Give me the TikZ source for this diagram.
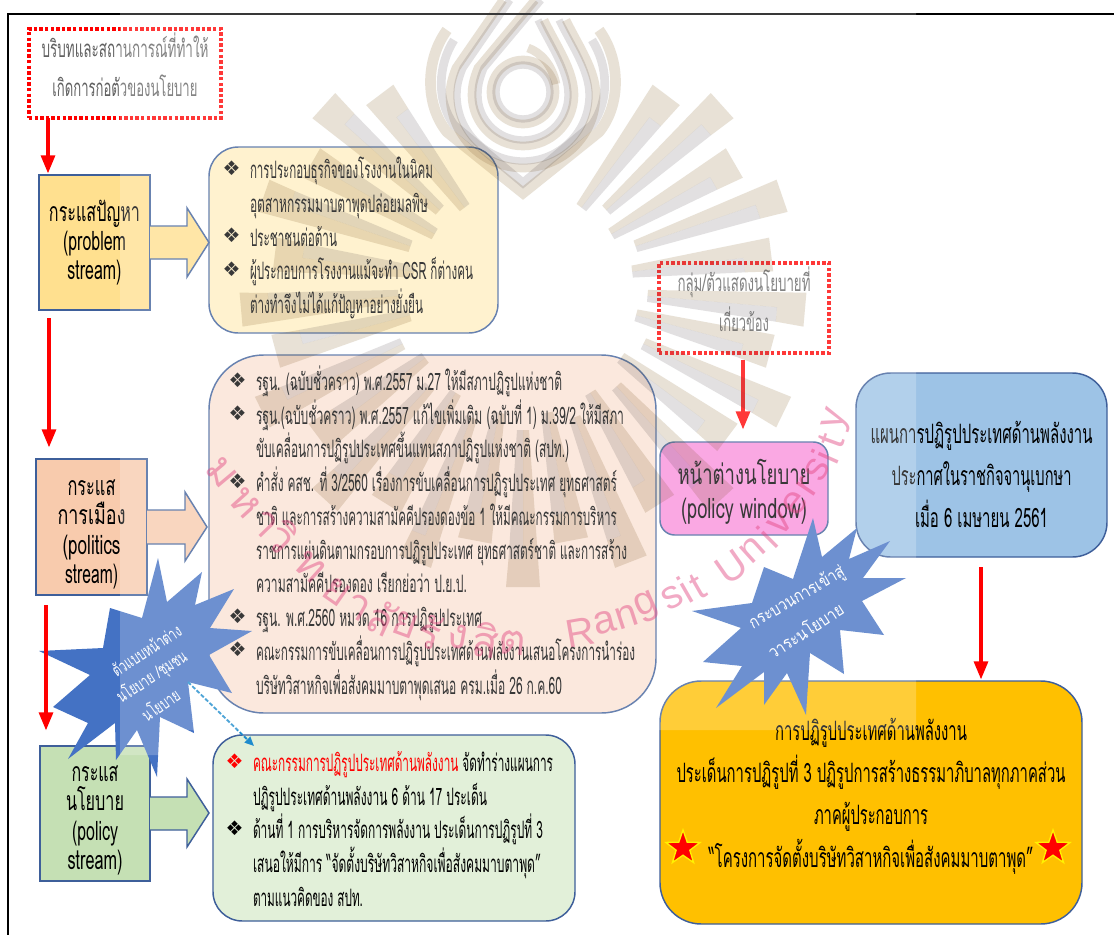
\documentclass[tikz,border=0pt]{standalone}
\usepackage{fontspec}
\usepackage{graphicx}
\usetikzlibrary{arrows.meta,shapes.geometric,calc}
\newfontfamily\thaifont[Script=Thai]{Loma}
\newfontfamily\djvu{DejaVu Sans}
\newfontfamily\libsans{Liberation Sans}
\newcommand\fw[2]{\resizebox{\dimexpr#1pt*3/4\relax}{\height}{#2}}
\newcommand\bulmark[1]{\makebox[0pt][r]{\raisebox{2.5pt}{\textcolor{#1}{\fontsize{15}{15}\djvu ❖}}\hspace{7pt}}}
\newcommand\thfont[2]{\thaifont\fontsize{#1}{#2}\selectfont\lineskiplimit -100pt\relax}
\newcommand\padtop[1]{\rule{0pt}{#1}}
\newcommand\padbot[1]{\rule[-#1]{0pt}{#1}}
\definecolor{bord}{HTML}{3E5F9A}
\definecolor{wtan}{HTML}{E2D9CB}
\definecolor{wgrey}{HTML}{DAD8D9}
\definecolor{wpink}{HTML}{E2437F}
\definecolor{burstc}{HTML}{4472C4}
\tikzset{
 wh/.style 2 args={minimum width=#1*0.75pt,minimum height=#2*0.75pt,inner sep=0pt,outer sep=0pt},
 tf/.style 2 args={font={\thfont{#1}{#2}}},
 sqbox/.style={draw=bord,line width=1.1pt,align=center},
 rbox/.style={draw=bord,line width=1.1pt,align=center},
 dotbox/.style={draw=red,line width=2.4pt,dash pattern=on 2.6pt off 1.6pt,align=center,text=black!62},
 blk/.style={inner sep=0pt,outer sep=0pt,align=left,anchor=west,text=black},
 blkc/.style={inner sep=0pt,outer sep=0pt,align=center,text=black},
 redarr/.style={draw=red,line width=3.6pt,-{Triangle[width=10pt,length=14pt]}},
 bluearr/.style={draw={rgb,255:red,30;green,140;blue,205},line width=1.4pt,dash pattern=on 3pt off 1.5pt,-{Triangle[width=6pt,length=7pt]}},
 barrow/.style={draw=bord,line width=1.1pt},
 burst/.style={fill=burstc},
 bursttxt/.style={inner sep=0pt,text=white,tf={13}{15}},
 raytan/.style={fill=wtan,blend mode=multiply},
 raygrey/.style={fill=wgrey,blend mode=multiply},
 logotan/.style={draw=wtan,line width=6.5pt,blend mode=multiply},
 logogrey/.style={draw=wgrey,line width=5.5pt,blend mode=multiply},
 wmt/.style={inner sep=0pt,text=wpink,text opacity=.45,tf={32}{34}},
 wml/.style={inner sep=0pt,text=wpink,text opacity=.45,font=\libsans\fontsize{30}{32}\selectfont},
 goldstar/.style={star,star points=5,star point ratio=2.5,fill=red,draw=yellow,line width=1pt,minimum size=27pt,inner sep=0pt}
}
\newcommand\wlayer[3]{\draw[#3] (#2,0) -- ({523-#1+6},68) .. controls ({523-#1+1},80) and ({523-#1},88) .. ({523-#1},95) arc[start angle=180,end angle=0,radius=#1] .. controls ({523+#1},70) and ({523+#1-18},45) .. ({523+#1-30},20);}
\begin{document}
\begin{tikzpicture}[x=0.75pt,y=-0.75pt]
\useasboundingbox (0,0) rectangle (1114,935);
\fill[white] (0,0) rectangle (1114,935);
% frame
\coordinate (frA) at (1114,14); \coordinate (frB) at (8,14); \coordinate (frC) at (8,935);
\draw[black,line width=1.6pt] (frA) -- (frB) -- (frC);

% ---------- boxes ----------
\node[dotbox,wh={192}{89},tf={18}{29}] (ctx) at (125,73.5) {\fw{167}{บริบทและสถานการณ์ที่ทำให้}\\\padbot{13pt}\fw{145}{เกิดการก่อตัวของนโยบาย}};
\node[sqbox,wh={111}{135},fill={rgb,255:red,255;green,224;blue,143},tf={20}{22}] (prob) at (94.5,242.5) {\fw{91}{กระแสปัญหา}\\\fw{63}{(problem}\\\fw{54}{stream)}};
\node[rbox,wh={289}{186},rounded corners=22pt,fill={rgb,255:red,255;green,239;blue,194}] (ybox) at (353.5,240) {};
\node[sqbox,wh={111}{136},fill={rgb,255:red,248;green,203;blue,173},tf={20}{22}] (poli) at (91.5,527) {\padtop{23pt}\fw{48}{กระแส}\\\fw{68}{การเมือง}\\\fw{58}{(politics}\\\fw{53}{stream)}};
\node[rbox,wh={447}{358},rounded corners=41pt,fill={rgb,255:red,250;green,226;blue,212}] (pbox) at (432.5,534) {};
\node[sqbox,wh={110}{135},fill={rgb,255:red,197;green,224;blue,180},tf={20}{22}] (poly) at (95,813.5) {\padtop{22pt}\fw{47}{กระแส}\\\fw{58}{นโยบาย}\\\fw{46}{(policy}\\\fw{55}{stream)}};
\node[rbox,wh={362}{186},rounded corners=22pt,fill={rgb,255:red,226;green,240;blue,217}] (gbox) at (394,828) {};
\node[dotbox,wh={170}{90},tf={18}{30}] (actor) at (744,308) {\fw{133}{กลุ่ม/ตัวแสดงนโยบายที่}\\\padbot{14pt}\fw{50}{เกี่ยวข้อง}};
\node[rbox,wh={168}{93},rounded corners=11pt,fill={rgb,255:red,249;green,144;blue,220},tf={21}{25}] (win) at (744,488.5) {\padtop{24pt}\fw{133}{หน้าต่างนโยบาย}\\\fw{126}{(policy window)}};
\node[rbox,wh={251}{184},rounded corners=26pt,fill={rgb,255:red,157;green,195;blue,230},tf={20}{31.5}] (plan) at (981.5,465) {\padtop{31pt}\fw{222}{แผนการปฏิรูปประเทศด้านพลังงาน}\\\fw{180}{ประกาศในราชกิจจานุเบกษา}\\\fw{133}{เมื่อ 6 เมษายน 2561}};
\node[rbox,wh={422}{243},rounded corners=31pt,fill={rgb,255:red,255;green,192;blue,0}] (oran) at (871,802.5) {};

% ---------- block arrows ----------
\coordinate (t1) at (209,242.5);
\draw[barrow,fill={rgb,255:red,255;green,224;blue,143}] (prob.east |- 0,226) -- (187,226) -- (187,208) -- (t1) -- (187,277) -- (187,259) -- (prob.east |- 0,259);
\coordinate (t2) at (207,527);
\draw[barrow,fill={rgb,255:red,248;green,203;blue,173}] (poli.east |- 0,510) -- (185,510) -- (185,492) -- (t2) -- (185,561) -- (185,544) -- (poli.east |- 0,544);
\coordinate (t3) at (209,813);
\draw[barrow,fill={rgb,255:red,197;green,224;blue,180}] (poly.east |- 0,797) -- (187,797) -- (187,779) -- (t3) -- (187,847) -- (187,830) -- (poly.east |- 0,830);

% ---------- text blocks ----------
\node[blk,tf={18}{25.3}] (ytxt) at (250,238) {%
\bulmark{black}\fw{183}{การประกอบธุรกิจของโรงงานในนิคม}\\
\fw{178}{อุตสาหกรรมมาบตาพุดปล่อยมลพิษ}\\
\bulmark{black}\fw{87}{ประชาชนต่อต้าน}\\
\bulmark{black}\fw{223}{ผู้ประกอบการโรงงานแม้จะทำ CSR ก็ต่างคน}\\
\fw{173}{ต่างทำจึงไม่ได้แก้ปัญหาอย่างยั่งยืน}};
\node[blk,tf={18}{25.3}] (ptxt) at (256,533) {%
\bulmark{black}\fw{306}{รฐน. (ฉบับชั่วคราว) พ.ศ.2557 ม.27 ให้มีสภาปฏิรูปแห่งชาติ}\\
\bulmark{black}\fw{368}{รฐน.(ฉบับชั่วคราว) พ.ศ.2557 แก้ไขเพิ่มเติม (ฉบับที่ 1) ม.39/2 ให้มีสภา}\\
\fw{313}{ขับเคลื่อนการปฏิรูปประเทศขึ้นแทนสภาปฏิรูปแห่งชาติ (สปท.)}\\
\bulmark{black}\fw{361}{คำสั่ง คสช. ที่ 3/2560 เรื่องการขับเคลื่อนการปฏิรูปประเทศ ยุทธศาสตร์}\\
\fw{361}{ชาติ และการสร้างความสามัคคีปรองดองข้อ 1 ให้มีคณะกรรมการบริหาร}\\
\fw{371}{ราชการแผ่นดินตามกรอบการปฏิรูปประเทศ ยุทธศาสตร์ชาติ และการสร้าง}\\
\fw{211}{ความสามัคคีปรองดอง  เรียกย่อว่า ป.ย.ป.}\\
\bulmark{black}\fw{226}{รฐน. พ.ศ.2560 หมวด 16 การปฏิรูปประเทศ}\\
\bulmark{black}\fw{379}{คณะกรรมการขับเคลื่อนการปฏิรูปประเทศด้านพลังงานเสนอโครงการนำร่อง}\\
\fw{306}{บริษัทวิสาหกิจเพื่อสังคมมาบตาพุดเสนอ ครม.เมื่อ 26 ก.ค.60}};
\node[blk,tf={18}{25.3}] (gtxt) at (253,829) {%
\bulmark{red}\fw{300}{\textcolor{red}{คณะกรรมการปฏิรูปประเทศด้านพลังงาน} จัดทำร่างแผนการ}\\
\fw{234}{ปฏิรูปประเทศด้านพลังงาน 6 ด้าน 17 ประเด็น}\\
\bulmark{black}\fw{290}{ด้านที่ 1 การบริหารจัดการพลังงาน ประเด็นการปฏิรูปที่ 3}\\
\fw{288}{เสนอให้มีการ “จัดตั้งบริษัทวิสาหกิจเพื่อสังคมมาบตาพุด”}\\
\fw{110}{ตามแนวคิดของ สปท.}};
\node[blkc,tf={20}{31.8}] (otxt) at (871,796) {%
\fw{192}{การปฏิรูปประเทศด้านพลังงาน}\\
\fw{389}{ประเด็นการปฏิรูปที่ 3 ปฏิรูปการสร้างธรรมาภิบาลทุกภาคส่วน}\\
\fw{114}{ภาคผู้ประกอบการ}\\
\fw{325}{“โครงการจัดตั้งบริษัทวิสาหกิจเพื่อสังคมมาบตาพุด”}};
\node[goldstar] (s1) at (683,848) {};
\node[goldstar] (s2) at (1053,848) {};

% ---------- bursts ----------
\fill[burst] (158,558)--(167,602)--(202,572)--(195,605)--(234,589)--(210,628)--(252,631)--(209,655)--(232,693)--(188,682)--(194,733)--(160,717)--(157,777)--(137,730)--(116,760)--(115,723)--(68,759)--(88,723)--(53,707)--(90,675)--(39,651)--(103,648)--(110,608)--(142,618)--cycle;
\fill[burst] (813,518)--(822,557)--(857,528)--(849,559)--(890,541)--(863,578)--(906,578)--(862,601)--(884,635)--(840,630)--(844,674)--(810,653)--(806,715)--(787,673)--(764,705)--(764,672)--(716,708)--(742,666)--(703,662)--(741,628)--(692,611)--(752,603)--(764,567)--(793,579)--cycle;
\node[bursttxt,rotate=33] (b1a) at (146,650) {\fw{79}{ตัวแบบหน้าต่าง}};
\node[bursttxt,rotate=33] (b1b) at (152,677) {\fw{80}{นโยบาย /ชุมชน}};
\node[bursttxt,rotate=35] (b1c) at (160,704) {\fw{42}{นโยบาย}};
\node[bursttxt,rotate=30] (b2a) at (797,598) {\fw{107}{กระบวนการเข้าสู่}};
\node[bursttxt,rotate=33] (b2b) at (805,630) {\fw{86}{วาระนโยบาย}};

% ---------- connectors ----------
\coordinate (a1s) at (48,118); \coordinate (a1e) at (48,174);
\draw[redarr] (a1s) -- (a1e);
\coordinate (a2s) at (49,318); \coordinate (a2e) at (49,448);
\draw[redarr] (a2s) -- (a2e);
\coordinate (a3s) at (46,605); \coordinate (a3e) at (46,731);
\draw[redarr] (a3s) -- (a3e);
\coordinate (a4s) at (743,360); \coordinate (a4e) at (743,430);
\draw[redarr] (a4s) -- (a4e);
\coordinate (a5s) at (981,567); \coordinate (a5e) at (981,680);
\draw[redarr] (a5s) -- (a5e);
\coordinate (dA) at (188,682); \coordinate (dB) at (254,746);
\draw[bluearr] (dA) -- (dB);

% ---------- watermark logo ----------
\foreach \a/\ri/\ro in {-53/97/238,-42/112/268,-30/102/244,-19/119/274,-7/110/250,5/125/283,15/117/256,26/134/290,36.7/122/255,47.3/138/292,58/127/258,68.7/142/297,79.3/130/260,90/145/302,100.7/130/260,111.3/142/297,122/127/258,132.7/138/292,143.3/122/255,154/134/290,165/117/256,175/125/283,187/110/250,199/119/274,210/102/244,222/112/268,233/97/238}{
 \begin{scope}[shift={(523,285)},rotate=-\a]
 \fill[raytan] (\ri,-6) -- (\ro,-17) -- (\ro,17) -- (\ro-28,14.5) -- (\ro-28,0) -- (\ri,0) -- cycle;
 \fill[raygrey] (\ri,0) -- (\ri,6) -- (\ro-28,14.5) -- (\ro-28,0) -- cycle;
 \end{scope}
}
\draw[logotan] (523,92) circle[radius=32];
\draw[logogrey] (523,92) circle[radius=27];
\draw[logotan] (556,84) .. controls (552,64) and (540,52) .. (528,48);
\wlayer{73}{503}{logotan}
\wlayer{66}{510}{logogrey}
\wlayer{51}{535}{logotan}
\wlayer{45}{541}{logogrey}
\draw[logotan,line width=8pt] (447,30) .. controls (425,60) and (425,105) .. (447,132) -- (523,193) -- (599,132) .. controls (621,105) and (621,60) .. (599,30);
\draw[logogrey,line width=6.5pt] (454,40) .. controls (438,65) and (436,100) .. (454,125) -- (523,183) -- (592,125) .. controls (610,100) and (608,65) .. (592,40);

% white wash of the watermark image
\fill[white,fill opacity=.22] (120,0) -- (916,0) -- (916,730) -- (159,730) -- (159,755) -- (120,755) -- cycle;

% watermark text
\foreach \n/\x/\y/\r/\g in {a/222/473/-50/ม,b/245/503/-48/ห,c/264/524/-46/า,d/283/537/-44/วิ,e/310/567/-42/ท,f/337/592/-35/ย,g/358/607/-30/า,h/382/618/-25/ลั,i/405/625/-20/ย,j/430/632/-15/รั,k/458/637/-10/ง,l/486/640/-8/สิ,m/512/643/-5/ต}{
 \node[wmt,rotate=\r] (wt\n) at (\x,\y) {\g};
}
\foreach \n/\x/\y/\r/\g in {a/580/632/10/R,b/605/623/14/a,c/627/617/18/n,d/647/607/24/g,e/672/597/28/s,f/685/590/30/i,g/698/587/30/t,h/732/567/35/U,i/753/550/42/n,j/767/537/45/i,k/780/523/48/v,l/795/503/52/e,m/807/487/56/r,n/817/470/60/s,o/825/457/66/i,p/831/441/70/t,q/837/420/72/y}{
 \node[wml,rotate=\r] (wl\n) at (\x,\y) {\g};
}
\end{tikzpicture}
\end{document}
